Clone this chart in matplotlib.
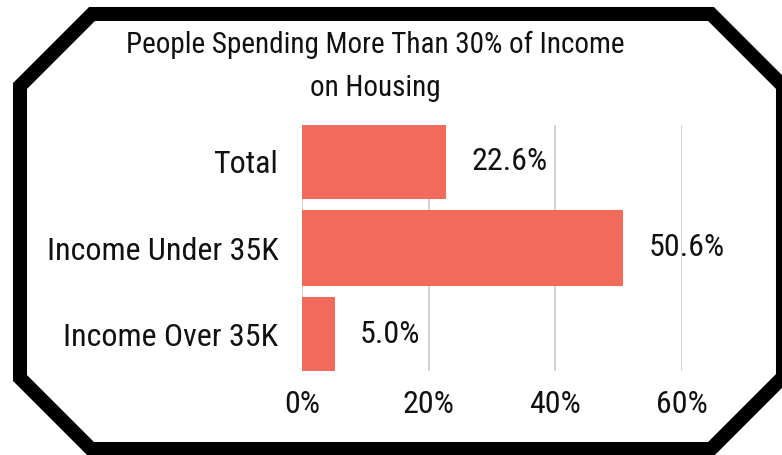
import matplotlib
matplotlib.use("Agg")
import matplotlib.pyplot as plt
from matplotlib.patches import Polygon
from matplotlib.ticker import FuncFormatter

plt.rcParams['font.family'] = ['Roboto Condensed', 'Liberation Sans Narrow', 'Roboto', 'DejaVu Sans']

# data
categories = ["Total", "Income Under 35K", "Income Over 35K"]
values = [22.6, 50.6, 5.0]
ticks = [0, 20, 40, 60]
title = "People Spending More Than 30% of Income\non Housing"

W, H = 782, 455
fig = plt.figure(figsize=(W / 100, H / 100), dpi=100)

# octagon frame, in pixels from the top left
frame_px = [(92, 14), (711, 14), (783, 86), (783, 377), (711, 449),
            (91, 449), (20, 378), (20, 86)]
frame = Polygon([(x / W, 1 - y / H) for x, y in frame_px], closed=True,
                fill=False, edgecolor="black", linewidth=10.1,
                joinstyle="miter", transform=fig.transFigure)
fig.patches.append(frame)

ax = fig.add_axes([302 / W, 1 - 371 / H, 380 / W, 246 / H])

bar_color = "#F26A5C"
ypos = list(range(len(categories)))
bars = ax.barh(ypos, values, height=0.85, color=bar_color,
               edgecolor=bar_color, linewidth=1.5, joinstyle="round", zorder=3)

for b, v in zip(bars, values):
    ax.annotate(f"{v:.1f}%", xy=(b.get_width(), b.get_y() + b.get_height() / 2),
                xytext=(19, 0), textcoords="offset points",
                ha="left", va="center", fontsize=23, color="#111111")

ax.set_xlim(0, 60)
ax.set_ylim(2.425, -0.425)
ax.set_xticks(ticks)
ax.xaxis.set_major_formatter(FuncFormatter(lambda x, p: f"{x:.0f}%"))
ax.set_yticks(ypos)
ax.set_yticklabels(categories)
ax.tick_params(axis="x", length=0, pad=14, labelsize=23, colors="#111111")
ax.tick_params(axis="y", length=0, pad=17, labelsize=23, colors="#111111")
ax.grid(axis="x", color="#cccccc", linewidth=1.2, zorder=0)
ax.set_axisbelow(True)
for s in ax.spines.values():
    s.set_visible(False)
ax.axvline(0, color="#cccccc", linewidth=1.2, zorder=1)

fig.text(375 / W, 1 - 66 / H, title, ha="center", va="center",
         fontsize=21, linespacing=1.68, color="#111111")

fig.savefig("out.png", dpi=100)
